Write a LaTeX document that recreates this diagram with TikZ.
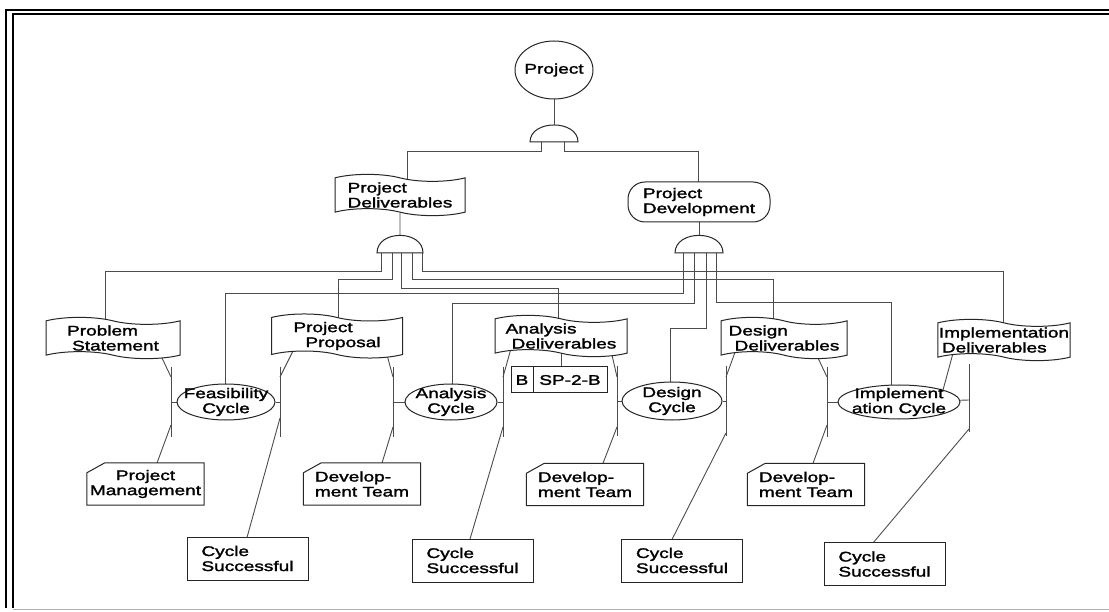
\documentclass[tikz,border=0pt]{standalone}
\usepackage{fontspec}
\setmainfont{Liberation Sans}[FakeStretch=1.36,FakeBold=1.8]
\usetikzlibrary{shapes.geometric,shapes.symbols,backgrounds,calc}

% outline of a resource box: rectangle with its top left corner cut off
\newcommand\cutcorner[1]{%
  \draw[draw=black!85, line width=1pt]
    ($(#1.north west)+(18,0)$) -- (#1.north east) -- (#1.south east)
    -- (#1.south west) -- ($(#1.north west)+(0,10)$) -- cycle;}

\begin{document}
\begin{tikzpicture}[x=1pt,y=-1pt,
  every node/.style={font=\fontsize{14}{15}\selectfont, text=black},
  wire/.style={draw=black!70, line width=0.9pt},
  shapeline/.style={draw=black!85, line width=1pt, fill=white},
  banner/.style={shapeline, tape, tape bend top=out and in, tape bend bottom=out and in,
                 tape bend height=7pt, align=left, inner sep=1pt},
  cyc/.style={shapeline, ellipse, inner sep=0pt},
  cyclbl/.style={align=center, inner sep=0pt},
  rsrc/.style={fill=white, rectangle, minimum width=117pt, minimum height=42pt, inner sep=1pt},
  okbox/.style={shapeline, rectangle, minimum width=121pt, minimum height=43pt,
                align=left, inner sep=1pt},
  gatepath/.style={draw=black!85, line width=1pt, fill=white},
  frameline/.style={draw=black, line width=1.8pt},
]
\useasboundingbox (0,0) rectangle (1109,612);

% outer frame
\draw[frameline] (5.8,608) -- (5.8,10.2) -- (1109,10.2);
\draw[frameline] (12.8,608) -- (12.8,14.3) -- (1109,14.3);
\draw[draw=black!30, line width=1pt] (12.8,609) -- (1109,609);

% top level
\node[cyc, minimum width=78pt, minimum height=58pt,
      label={[cyclbl]center:Project}] (prj) at (554,70) {};
\node[banner, minimum width=130pt, minimum height=38pt] (pd) at (400,195) {Project\\Deliverables};
\node[shapeline, rounded corners=17pt, minimum width=142pt, minimum height=40pt,
      align=left, inner sep=1pt] (pdv) at (699,202) {Project\\Development};

% AND gates
\draw[gatepath] (530,142) .. controls (530,119.3) and (578,119.3) .. (578,142) -- cycle;
\coordinate (gT) at (554,125);
\draw[gatepath] (377,253) .. controls (377,229.5) and (423,229.5) .. (423,253) -- cycle;
\coordinate (gL) at (400,235.5);
\draw[gatepath] (675,253) .. controls (675,229.5) and (723,229.5) .. (723,253) -- cycle;
\coordinate (gR) at (699,235.5);

\coordinate (gTa) at (541,142); \coordinate (gTb) at (564,142);
\coordinate (gLa) at (381,253); \coordinate (gLb) at (392,253); \coordinate (gLc) at (401,253);
\coordinate (gLd) at (412,253); \coordinate (gLe) at (422,253);
\coordinate (gRa) at (683,253); \coordinate (gRb) at (694,253);
\coordinate (gRc) at (706,253); \coordinate (gRd) at (716,253);

% deliverables
\node[banner, minimum width=134pt, minimum height=40pt] (ps) at (113,338) {Problem\\\hspace*{5pt}Statement};
\node[banner, minimum width=131pt, minimum height=38pt] (pp) at (337,336) {Project\\\hspace*{12pt}Proposal};
\node[banner, minimum width=132pt, minimum height=36pt] (ad) at (561,336) {Analysis\\\hspace*{6pt}Deliverables};
\node[banner, minimum width=126pt, minimum height=38pt] (dd) at (784,338) {Design\\\hspace*{6pt}Deliverables};
\node[banner, minimum width=132pt, minimum height=37pt] (id) at (1004,340) {Implementation\\\hspace*{3pt}Deliverables};

% cycles
\node[cyc, minimum width=98pt, minimum height=36pt,
      label={[cyclbl]center:{Feasibility\\Cycle}}] (fc) at (226,402) {};
\node[cyc, minimum width=92pt, minimum height=36pt,
      label={[cyclbl]center:{Analysis\\Cycle}}] (ac) at (451,402) {};
\node[cyc, minimum width=100pt, minimum height=38pt,
      label={[cyclbl]center:{Design\\Cycle}}] (dc) at (672,401) {};
\node[cyc, minimum width=122pt, minimum height=34pt,
      label={[cyclbl]center:{Implement\\ation Cycle}}] (ic) at (899,402) {};

% junction bars beside the cycles
\coordinate (fcL) at (171,402); \coordinate (fcR) at (280,402);
\coordinate (acL) at (393,402); \coordinate (acR) at (503,402);
\coordinate (dcL) at (617,401); \coordinate (dcR) at (726,401);
\coordinate (icL) at (827,402); \coordinate (icR) at (969,400);

% version tag
\node[shapeline, minimum width=22pt, minimum height=26pt, inner sep=0pt] (bb) at (522,380) {B};
\node[shapeline, minimum width=74pt, minimum height=26pt, inner sep=0pt] (sp) at (570,380) {SP-2-B};

% resources
\node[rsrc, align=center] (pm) at (145.5,484) {Project\\Management};
\node[rsrc, align=left] (dt1) at (362,484) {Develop-\\ment Team};
\node[rsrc, align=left] (dt2) at (585,484.5) {Develop-\\ment Team};
\node[rsrc, align=left] (dt3) at (806,484.5) {Develop-\\ment Team};
\cutcorner{pm} \cutcorner{dt1} \cutcorner{dt2} \cutcorner{dt3}

% results
\node[okbox] (cs1) at (247.5,558.5) {Cycle\\Successful};
\node[okbox] (cs2) at (472.5,560.5) {Cycle\\Successful};
\node[okbox] (cs3) at (682,560.5) {Cycle\\Successful};
\node[okbox] (cs4) at (884.5,564) {Cycle\\Successful};

\begin{pgfonlayer}{background}
  % tree connections
  \draw[wire] (prj) -- (gT);
  \draw[wire] (gTa) -- ++(0,9) -| ($(pd.center)+(7,0)$);
  \draw[wire] (gTb) -- ++(0,9) -| ($(pdv.center)+(-1,0)$);
  \draw[wire] (pd) -- (gL);
  \draw[wire] (pdv) -- (gR);
  \draw[wire] (gLa) -- ++(0,18) -| ($(ps.center)+(-8,0)$);
  \draw[wire] (gLb) -- ++(0,26) -| ($(pp.center)+(1,0)$);
  \draw[wire] (gLc) -- ++(0,35) -| ($(ad.center)+(-3,0)$);
  \draw[wire] (gLd) -- ++(0,26) -| ($(dd.center)+(-11,0)$);
  \draw[wire] (gLe) -- ++(0,18) -| ($(id.center)+(-1,0)$);
  \draw[wire] (gRa) -- ++(0,40) -| ($(fc.center)+(-1,0)$);
  \draw[wire] (gRb) -- ++(0,50) -| ($(ac.center)+(1,0)$);
  \draw[wire] (gRc) -- ++(0,75) -| ($(dc.center)+(-2,0)$);
  \draw[wire] (gRd) -- ++(0,49) -| ($(ic.center)+(-8,0)$);

  % bars and ticks
  \foreach \b in {fcL,fcR,acL,acR,dcL,dcR,icL}{
    \draw[wire] ($(\b)+(0,-35)$) -- ($(\b)+(0,35)$);
  }
  \draw[wire] ($(icR)+(0,-36)$) -- ($(icR)+(0,32)$);
  \draw[wire] (fc) -- (fcL); \draw[wire] (fc) -- (fcR);
  \draw[wire] (ac) -- (acL); \draw[wire] (ac) -- (acR);
  \draw[wire] (dc) -- (dcL); \draw[wire] (dc) -- (dcR);
  \draw[wire] (ic) -- (icL); \draw[wire] (ic) -- (icR);

  % deliverable links
  \draw[wire] ($(ps.center)+(39.5,0)$) -- ($(fcL)+(0,-25)$);
  \draw[wire] ($(pp.center)+(-36.5,0)$) -- ($(fcR)+(0,-25)$);
  \draw[wire] ($(pp.center)+(44.8,0)$) -- ($(acL)+(0,-25)$);
  \draw[wire] ($(ad.center)+(-46.5,0)$) -- ($(acR)+(0,-25)$);
  \draw[wire] ($(ad.center)+(46.7,0)$) -- ($(dcL)+(0,-24)$);
  \draw[wire] ($(dd.center)+(-43.8,0)$) -- ($(dcR)+(0,-24)$);
  \draw[wire] ($(dd.center)+(24.5,0)$) -- ($(icL)+(0,-25)$);
  \draw[wire] ($(id.center)+(-47.4,0)$) -- ($(ic.center)+(44,-12)$);
  \draw[wire] (ad.center) -- (ad.center |- sp.north);

  % resource links
  \draw[wire] ($(pm.center)+(3.8,0)$) -- ($(fcL)+(0,23)$);
  \draw[wire] ($(dt1.center)+(13.6,0)$) -- ($(acL)+(0,25)$);
  \draw[wire] ($(dt2.center)+(9.8,0)$) -- ($(dcL)+(0,26)$);
  \draw[wire] ($(dt3.center)+(-0.7,0)$) -- ($(icL)+(0,23)$);

  % result links
  \draw[wire] ($(cs1.center)+(-6.3,0)$) -- ($(fcR)+(0,16)$);
  \draw[wire] ($(cs2.center)+(-8.8,0)$) -- ($(acR)+(0,25)$);
  \draw[wire] ($(cs3.center)+(-20.7,0)$) -- ($(dcR)+(0,32)$);
  \draw[wire] ($(cs4.center)+(-29.2,0)$) -- ($(icR)+(0,29)$);
\end{pgfonlayer}
\end{tikzpicture}
\end{document}
